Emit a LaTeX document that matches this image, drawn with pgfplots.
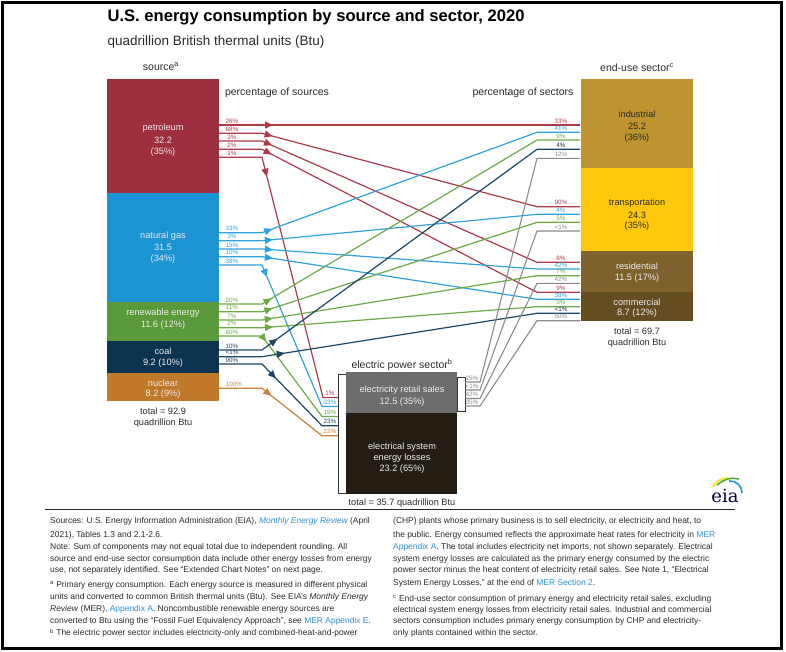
\documentclass[border=0pt]{standalone}
\usepackage{pgfplots}
\pgfplotsset{compat=1.18}
\usepackage{fontspec}
\setmainfont{Liberation Sans}
\newfontfamily\logofont{DejaVu Serif}
\usetikzlibrary{arrows.meta,decorations.markings}
\definecolor{petB}{HTML}{9E2F3F}\definecolor{petL}{HTML}{AD3A48}
\definecolor{ngB}{HTML}{1C93D3}\definecolor{ngL}{HTML}{2FA2DE}
\definecolor{reB}{HTML}{5B9A3B}\definecolor{reL}{HTML}{6BAA45}
\definecolor{coB}{HTML}{0B3350}\definecolor{coL}{HTML}{1B4664}
\definecolor{nuB}{HTML}{C0782A}\definecolor{nuL}{HTML}{C8813A}
\definecolor{indB}{HTML}{BE9330}\definecolor{trB}{HTML}{FFC80A}
\definecolor{resB}{HTML}{7D622E}\definecolor{comB}{HTML}{654D22}
\definecolor{retB}{HTML}{6D6D6D}\definecolor{losB}{HTML}{231D13}
\definecolor{grL}{HTML}{8A8A8A}\definecolor{link}{HTML}{2A8FD6}
\definecolor{txt}{HTML}{2A2A2A}
\newcommand{\pctfont}{\fontsize{6.3}{7}\selectfont}
\newcommand{\barfont}{\fontsize{9.2}{11}\selectfont}
\newcommand{\notefont}{\fontsize{8.45}{9}\selectfont}
\pgfplotsset{
  flow/.style={line width=1.2pt, no markers, postaction={decorate},
    decoration={markings, mark=at position #1 with {\arrow{Triangle[length=8pt,width=7pt]}}}},
  flow/.default=54pt,
  plainflow/.style={line width=1.1pt, no markers}
}
\begin{document}
\begin{tikzpicture}
\path[use as bounding box] (0,0) rectangle (786pt,651pt);
\begin{axis}[at={(0,0)}, anchor=south west, scale only axis, width=786pt, height=651pt,
  xmin=0, xmax=786, ymin=0, ymax=651, y dir=reverse, hide axis, clip=false]
% ---------- source bars
\addplot[fill=petB, draw=none] coordinates {(107,79) (219,79) (219,193) (107,193)} --cycle;
\addplot[fill=ngB, draw=none] coordinates {(107,193) (219,193) (219,302) (107,302)} --cycle;
\addplot[fill=reB, draw=none] coordinates {(107,302) (219,302) (219,341) (107,341)} --cycle;
\addplot[fill=coB, draw=none] coordinates {(107,341) (219,341) (219,373) (107,373)} --cycle;
\addplot[fill=nuB, draw=none] coordinates {(107,373) (219,373) (219,401) (107,401)} --cycle;
% ---------- end-use bars
\addplot[fill=indB, draw=none] coordinates {(581,79) (693,79) (693,168) (581,168)} --cycle;
\addplot[fill=trB, draw=none] coordinates {(581,168) (693,168) (693,251) (581,251)} --cycle;
\addplot[fill=resB, draw=none] coordinates {(581,251) (693,251) (693,292) (581,292)} --cycle;
\addplot[fill=comB, draw=none] coordinates {(581,292) (693,292) (693,321) (581,321)} --cycle;
% ---------- electric power sector
\addplot[fill=white, draw=black!80, line width=0.8pt] coordinates {(338,374) (346,374) (346,493) (338,493)} --cycle;
\addplot[fill=white, draw=black!80, line width=0.8pt] coordinates {(457,377) (465,377) (465,411) (457,411)} --cycle;
\addplot[fill=retB, draw=none] coordinates {(346,372) (457,372) (457,413) (346,413)} --cycle;
\addplot[fill=losB, draw=none] coordinates {(346,413) (457,413) (457,494) (346,494)} --cycle;
% ---------- petroleum flows
\addplot[flow, petL] coordinates {(219,125) (580,125)};
\addplot[flow, petL] coordinates {(219,133.3) (262,133.3) (537,206.7) (580,206.7)};
\addplot[flow, petL] coordinates {(219,141) (262,141) (537,262.3) (580,262.3)};
\addplot[flow, petL] coordinates {(219,149.3) (262,149.3) (537,292.3) (580,292.3)};
\addplot[flow=63pt, petL] coordinates {(219,157.3) (262,157.3) (323,397.5) (338,397.5)};
% ---------- natural gas flows
\addplot[flow, ngL] coordinates {(219,232.7) (262,232.7) (537,132.3) (580,132.3)};
\addplot[flow, ngL] coordinates {(219,240.7) (262,240.7) (537,214.3) (580,214.3)};
\addplot[flow, ngL] coordinates {(219,249) (262,249) (537,269) (580,269)};
\addplot[flow, ngL] coordinates {(219,256.7) (262,256.7) (537,299.3) (580,299.3)};
\addplot[flow=56pt, ngL] coordinates {(219,265) (262,265) (322,406.5) (338,406.5)};
% ---------- renewable flows
\addplot[flow, reL] coordinates {(219,304) (262,304) (537,140) (580,140)};
\addplot[flow, reL] coordinates {(219,311.7) (262,311.7) (537,222.3) (580,222.3)};
\addplot[flow, reL] coordinates {(219,320) (262,320) (537,275.7) (580,275.7)};
\addplot[flow, reL] coordinates {(219,327.7) (262,327.7) (537,306.7) (580,306.7)};
\addplot[flow=50pt, reL] coordinates {(219,336) (262,336) (322,416.5) (338,416.5)};
% ---------- coal flows
\addplot[flow=62pt, coL] coordinates {(219,350) (262,350) (537,149.3) (580,149.3)};
\addplot[flow=66pt, coL] coordinates {(219,356.7) (262,356.7) (537,313.3) (580,313.3)};
\addplot[flow=63pt, coL] coordinates {(219,364) (262,364) (322,425.7) (338,425.7)};
% ---------- nuclear flow
\addplot[flow=55pt, nuL] coordinates {(219,388.3) (262,388.3) (322,435.7) (338,435.7)};
% ---------- electricity retail sales flows
\addplot[plainflow, grL] coordinates {(465,382) (480,382) (537,158.3) (580,158.3)};
\addplot[plainflow, grL] coordinates {(465,390) (480,390) (537,231) (580,231)};
\addplot[plainflow, grL] coordinates {(465,398.5) (480,398.5) (537,283.3) (580,283.3)};
\addplot[plainflow, grL] coordinates {(465,406) (480,406) (537,320.7) (580,320.7)};
% ---------- titles
\node[anchor=west, font=\fontsize{16.6}{18}\selectfont\bfseries, text=black] at (104,17.5) {U.S. energy consumption by source and sector, 2020};
\node[anchor=west, font=\fontsize{13.5}{15}\selectfont, text=txt] at (104,42) {quadrillion British thermal units (Btu)};
\node[font=\fontsize{10.5}{12}\selectfont, text=txt] at (161,67) {source\textsuperscript{a}};
\node[font=\fontsize{10.5}{12}\selectfont, text=txt] at (637,68) {end-use sector\textsuperscript{c}};
\node[font=\fontsize{10.5}{12}\selectfont, text=txt] at (277,93) {percentage of sources};
\node[font=\fontsize{10.5}{12}\selectfont, text=txt] at (523,93) {percentage of sectors};
\node[font=\fontsize{10.5}{12}\selectfont, text=txt] at (402,365) {electric power sector\textsuperscript{b}};
% ---------- bar texts
\begin{scope}[every node/.style={font=\barfont, text=white!92!black}]
\node at (163,128) {petroleum}; \node at (163,140) {32.2}; \node at (163,152) {(35\%)};
\node at (163,236) {natural gas}; \node at (163,247.5) {31.5}; \node at (163,259) {(34\%)};
\node at (163,313) {renewable energy}; \node at (163,325) {11.6 (12\%)};
\node at (163,351) {coal}; \node at (163,363) {9.2 (10\%)};
\node at (163,383) {nuclear}; \node at (163,394.5) {8.2 (9\%)};
\node at (637,266) {residential}; \node at (637,278) {11.5 (17\%)};
\node at (637,302) {commercial}; \node at (637,313.5) {8.7 (12\%)};
\node at (402,390) {electricity retail sales}; \node at (402,402) {12.5 (35\%)};
\node at (402,447) {electrical system}; \node at (402,458) {energy losses}; \node at (402,469.5) {23.2 (65\%)};
\end{scope}
\begin{scope}[every node/.style={font=\barfont, text=txt}]
\node at (637,114) {industrial}; \node at (637,126) {25.2}; \node at (637,138) {(36\%)};
\node at (637,203) {transportation}; \node at (637,215) {24.3}; \node at (637,226.5) {(35\%)};
\node at (163,411) {total = 92.9}; \node at (163,423) {quadrillion Btu};
\node at (637,331) {total = 69.7}; \node at (637,343) {quadrillion Btu};
\node at (402,503.5) {total = 35.7 quadrillion Btu};
\end{scope}
% ---------- percentage labels, sources side
\begin{scope}[every node/.style={font=\pctfont}]
\node[text=petL] at (232,121) {26\%}; \node[text=petL] at (232,129.3) {68\%};
\node[text=petL] at (232,137) {3\%}; \node[text=petL] at (232,145.3) {2\%}; \node[text=petL] at (232,153.3) {1\%};
\node[text=ngL] at (232,228.7) {33\%}; \node[text=ngL] at (232,236.7) {3\%}; \node[text=ngL] at (232,245) {15\%};
\node[text=ngL] at (232,252.7) {10\%}; \node[text=ngL] at (232,261) {38\%};
\node[text=reL] at (232,300.3) {20\%}; \node[text=reL] at (232,307.7) {11\%}; \node[text=reL] at (232,316) {7\%};
\node[text=reL] at (232,323.7) {2\%}; \node[text=reL] at (232,332) {60\%};
\node[text=coL] at (232,346) {10\%}; \node[text=coL] at (232,352.7) {<1\%}; \node[text=coL] at (232,360) {90\%};
\node[text=nuL] at (234,384.3) {100\%};
% sectors side
\node[text=petL] at (561,121) {33\%}; \node[text=ngL] at (561,128.3) {41\%}; \node[text=reL] at (561,136) {9\%};
\node[text=coB] at (561,145.3) {4\%}; \node[text=grL] at (561,154.3) {12\%};
\node[text=petL] at (561,202.7) {90\%}; \node[text=ngL] at (561,210.3) {4\%}; \node[text=reL] at (561,218.3) {5\%};
\node[text=grL] at (561,227) {<1\%};
\node[text=petL] at (561,258.3) {8\%}; \node[text=ngL] at (561,265) {42\%}; \node[text=reL] at (561,271.7) {7\%};
\node[text=grL] at (561,279.3) {42\%};
\node[text=petL] at (561,288.3) {9\%}; \node[text=ngL] at (561,295.3) {38\%}; \node[text=reL] at (561,302.7) {3\%};
\node[text=coB] at (561,309.3) {<1\%}; \node[text=grL] at (561,316.7) {50\%};
% electric sector
\node[text=petL] at (330,393.5) {1\%}; \node[text=ngL] at (330,402.5) {33\%}; \node[text=reL] at (330,412.5) {19\%};
\node[text=coL] at (330,421.7) {23\%}; \node[text=nuL] at (330,431.7) {22\%};
\node[text=grL] at (472,378.5) {25\%}; \node[text=grL] at (472,386.5) {<1\%};
\node[text=grL] at (472,394.5) {42\%}; \node[text=grL] at (472,402.5) {35\%};
\end{scope}
% ---------- logo
\draw[line width=1.6pt, yellow!85!orange] (713,487) .. controls (716,481) and (721,478) .. (728,478);
\draw[line width=1.6pt, reB!80!green] (717,485) .. controls (724,479) and (732,477) .. (739,479);
\draw[line width=1.6pt, ngB] (729,481) .. controls (737,481) and (742,486) .. (742,493);
\node[font=\logofont\fontsize{18}{18}\selectfont, text=black!75!blue] at (725,496) {eia};
% ---------- separator and frame
\draw[line width=1.4pt, black!85] (45,509.5) -- (735,509.5);
\draw[line width=3pt, black] (2.5,2.5) rectangle (781.5,648.5);
% ---------- notes
\begin{scope}[every node/.style={anchor=west, font=\notefont, text=txt, inner sep=0pt}]
\node at (50,521.7) {Sources: U.S. Energy Information Administration (EIA), {\color{link}\itshape Monthly Energy Review} (April};
\node at (50,535.7) {2021), Tables 1.3 and 2.1-2.6.};
\node at (50,547.7) {Note: Sum of components may not equal total due to independent rounding. All};
\node at (50,559.2) {source and end-use sector consumption data include other energy losses from energy};
\node at (50,570.7) {use, not separately identified. See “Extended Chart Notes” on next page.};
\node at (50,585) {\textsuperscript{a} Primary energy consumption. Each energy source is measured in different physical};
\node at (50,597.7) {units and converted to common British thermal units (Btu). See EIA’s \textit{Monthly Energy}};
\node at (50,609.3) {\textit{Review} (MER), {\color{link}Appendix A}. Noncombustible renewable energy sources are};
\node at (50,621.7) {converted to Btu using the “Fossil Fuel Equivalency Approach”, see {\color{link}MER Appendix E}.};
\node at (50,633.3) {\textsuperscript{b} The electric power sector includes electricity-only and combined-heat-and-power};
\node at (393,521.7) {(CHP) plants whose primary business is to sell electricity, or electricity and heat, to};
\node at (393,535.7) {the public. Energy consumed reflects the approximate heat rates for electricity in {\color{link}MER}};
\node at (393,547.7) {{\color{link}Appendix A}. The total includes electricity net imports, not shown separately. Electrical};
\node at (393,559.2) {system energy losses are calculated as the primary energy consumed by the electric};
\node at (393,570.7) {power sector minus the heat content of electricity retail sales. See Note 1, “Electrical};
\node at (393,583.3) {System Energy Losses,” at the end of {\color{link}MER Section 2}.};
\node at (393,599) {\textsuperscript{c} End-use sector consumption of primary energy and electricity retail sales, excluding};
\node at (393,610.3) {electrical system energy losses from electricity retail sales. Industrial and commercial};
\node at (393,621.7) {sectors consumption includes primary energy consumption by CHP and electricity-};
\node at (393,633.3) {only plants contained within the sector.};
\end{scope}
\end{axis}
\end{tikzpicture}
\end{document}
